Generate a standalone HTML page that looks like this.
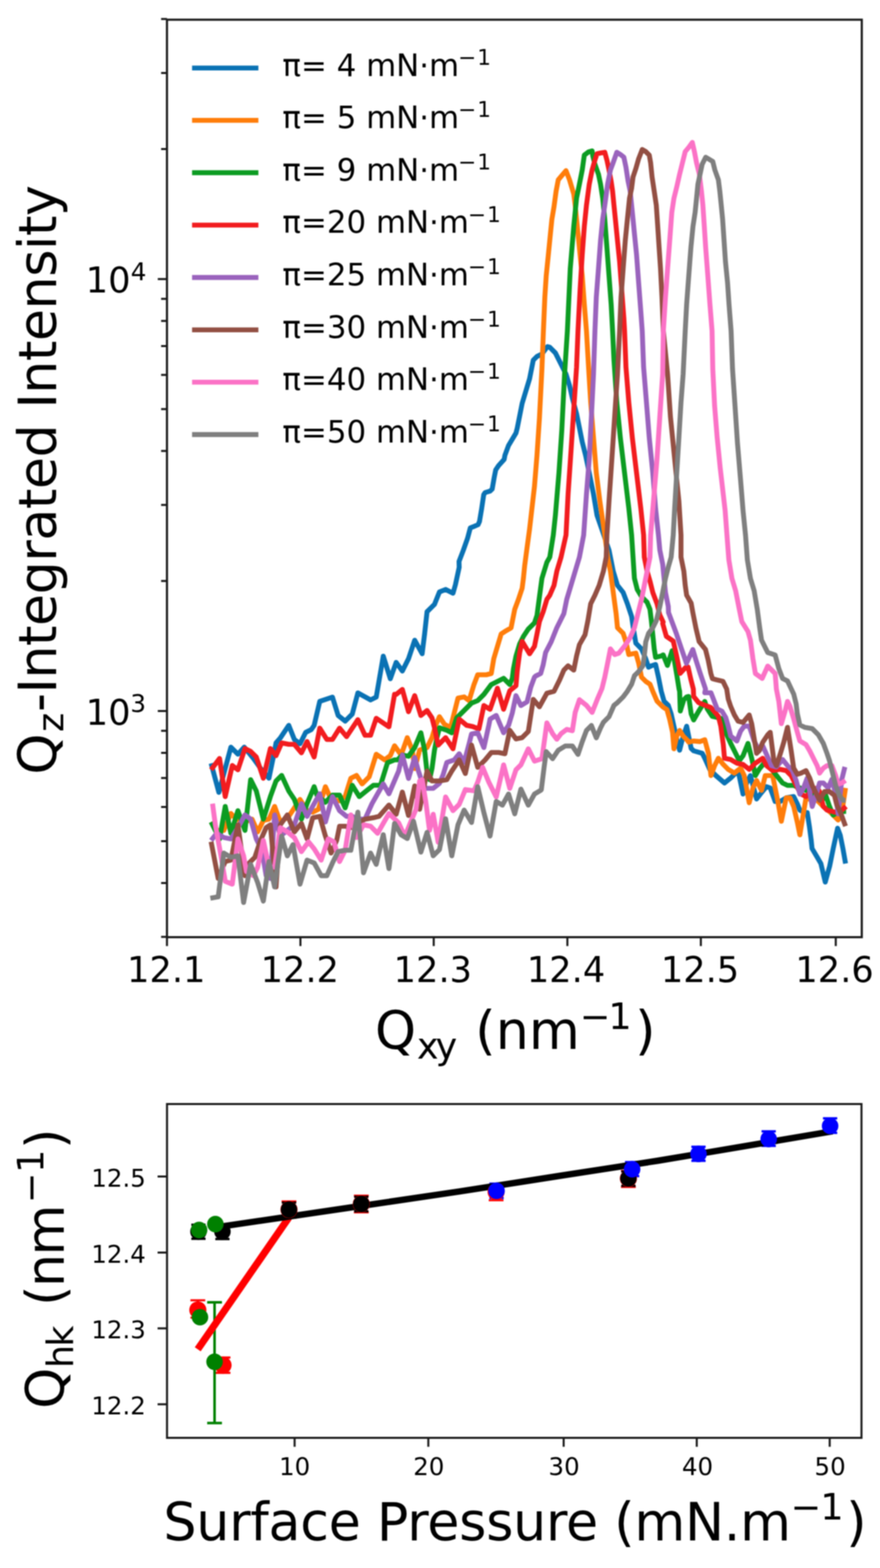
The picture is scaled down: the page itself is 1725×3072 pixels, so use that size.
<!DOCTYPE html><html><head><meta charset="utf-8"><title>Figure</title><style>html,body{margin:0;padding:0;background:#fff;}svg{display:block;filter:blur(0.8px);}text{font-family:"DejaVu Sans","Liberation Sans",sans-serif;fill:#000;}</style></head><body>
<svg width="1725" height="3072" viewBox="0 0 1725 3072">
<rect x="0" y="0" width="1725" height="3072" fill="#fff"/>
<defs><clipPath id="c1"><rect x="327.3" y="38.6" width="1362.0" height="1797.5"/></clipPath></defs>
<g clip-path="url(#c1)" fill="none" stroke-width="9.6" stroke-linejoin="round" stroke-linecap="butt">
<polyline stroke="#0a72b4" points="413.8,1495.6 429,1552.4 452.6,1463.8 466.4,1477.7 478.8,1463.8 496.8,1486 510.7,1505.3 527.2,1524.7 536.9,1477.7 541.1,1455.5 549.4,1446 566,1421.1 577,1448.8 588.1,1457.1 599.2,1434.9 610.2,1429.4 615.8,1421.1 626.8,1374.1 651.7,1365.8 662.8,1401.7 676.6,1412.8 690.5,1399 701.5,1357.5 726.4,1371.3 737.5,1365.8 751.3,1285.5 765.1,1329.8 776.6,1297.7 788.7,1314.7 800.8,1290.5 812.9,1254.2 827.5,1280.8 832.3,1242.1 837.1,1198.5 846.8,1188.8 851.7,1184 861.4,1159.8 873.5,1154.9 888,1162.2 892.8,1145.2 900.1,1111.4 899.8,1100 908.1,1078.4 916.4,1054.9 921.9,1034.2 927.5,1032.1 937.1,1027.9 939.9,1021.7 944.1,996.8 948.2,969.2 951,965 960.7,962.2 964.8,958.1 968.9,934.6 971.7,920.7 977.2,912.4 988.3,900 989.7,892.1 996.9,872.7 1004.2,860.6 1011.4,848.5 1013.9,838.8 1018.7,814.6 1023.5,790.4 1030.8,766.2 1038.1,742 1045.3,705.7 1052.6,698.4 1062.3,693.6 1073.2,679 1077.7,680.4 1088.7,691.5 1099.8,713.6 1109.5,733 1116.4,755.1 1121.9,780 1130.2,810.4 1135.8,838.1 1141.3,865.8 1148.2,893.4 1155.1,926.6 1163.4,968.1 1170.3,1009.6 1193.8,1077.7 1202.1,1119.2 1210.4,1146.8 1221.5,1160.7 1229.8,1182.8 1238.1,1207.7 1240.9,1227 1243.6,1243.6 1246.4,1260.2 1257.5,1271.3 1265.8,1290.7 1271.3,1307.3 1276.8,1304.5 1285.1,1301.7 1290.7,1326.6 1296.2,1354.3 1301.7,1373.7 1310,1382 1315.6,1398.5 1321.1,1423.4 1326.6,1447.7 1332.2,1469.8 1337.7,1447.7 1346,1422.8 1354.8,1466.2 1359.7,1471 1376.6,1475.9 1381.5,1485.6 1391.2,1507.3 1403.3,1519.5 1420.2,1534 1432.3,1524.3 1446.8,1509.8 1456.5,1555.8 1463.8,1534 1471,1519.5 1483.1,1565.4 1490.4,1555.8 1502.5,1541.2 1509.8,1543.7 1519.5,1570.3 1529.1,1570.3 1541.2,1563 1555.8,1560.6 1563,1575.1 1567.9,1587.2 1577.5,1592.1 1582.4,1592.1 1586.6,1619.2 1590,1645.1 1591.8,1662.4 1602.1,1679.7 1609.1,1691.8 1617.7,1728.1 1626.3,1697 1633.3,1662.4 1641.9,1622.6 1647.1,1636.4 1652.3,1662.4 1657.5,1691.8"/>
<polyline stroke="#ff7d0a" points="413.8,1610.4 424.9,1627 438.7,1627 452.6,1593.8 463.6,1604.9 480.2,1610.4 494.1,1604.9 505.1,1629.8 516.2,1607.7 527.2,1604.9 538.3,1580 549.4,1610.4 566,1599.4 577,1582.8 588.1,1566.2 601.9,1588.3 613,1591.1 624.1,1585.5 637.9,1541.3 649,1566.2 665.6,1568.9 676.6,1560.7 687.7,1524.7 698.8,1519.2 709.8,1535.8 723.7,1521.9 737.5,1477.7 754.1,1488.7 765.1,1480.4 773.4,1461.1 786.3,1479.1 798.4,1445.2 808.1,1469.5 812.9,1505.8 822.6,1469.5 837.1,1464.6 846.8,1445.2 854.1,1421 861.4,1404.1 871,1418.6 883.1,1425.9 897.7,1367.8 909.8,1365.4 919.5,1372.6 929.1,1341.2 936.4,1322 953.3,1322 963,1319.5 967.9,1290.5 975.1,1266.3 982.4,1242.1 989.7,1237.2 1001.8,1230 1009,1193.7 1016.3,1174.3 1023.5,1152.5 1026,1133.1 1028.4,1108.9 1033.2,1072.6 1038.1,1036.3 1047.7,952.6 1052.6,892.1 1057.4,819.5 1062.3,722.6 1065.2,648.3 1068,582 1070.7,540.5 1074.9,499 1079,457.5 1081.8,429.8 1086,404.9 1090.1,374.5 1094.3,352.4 1101.2,344.1 1109.5,334.4 1116.4,352.4 1120.5,366.2 1124.7,380 1127.5,402.1 1130.2,429.8 1133,457.5 1137.1,499 1141.3,540.5 1145.4,595.8 1149.6,648.3 1153.7,719.2 1157.9,788.3 1163.4,857.5 1168.9,926.6 1175.9,982 1185.5,1048.3 1191.1,1091.5 1196.6,1119.2 1202.1,1160.7 1207.7,1202.1 1210.4,1229.8 1221.5,1240.9 1227,1257.5 1232.6,1282.4 1246.4,1279.6 1251.9,1299 1254.7,1312.8 1257.5,1326.6 1265.8,1334.9 1274.1,1340.5 1279.6,1354.3 1287.9,1373.7 1299,1384.7 1307.3,1390.2 1312.8,1409.6 1318.3,1434.5 1321.1,1467 1326.6,1442.1 1332.2,1431.1 1339.1,1442.1 1347.4,1450.4 1350,1454.1 1359.7,1451.7 1371.8,1452.9 1381.5,1449.2 1388.7,1475.9 1393.6,1519.5 1400.8,1500.1 1408.1,1485.6 1417.8,1497.7 1427.5,1507.3 1439.6,1514.6 1451.7,1504.9 1458.9,1519.5 1468.6,1572.7 1475.9,1543.7 1483.1,1529.1 1492.8,1548.5 1500.1,1519.5 1514.6,1519.5 1524.3,1567.9 1531.6,1609 1541.2,1563 1548.5,1563 1555.8,1580 1563,1611.4 1567.9,1635.6 1575.1,1592.1 1580,1563 1592.1,1567.9 1601.8,1567.9 1613.9,1580 1628.4,1592.1 1642.9,1606.6 1650.2,1592.1 1657.4,1543.7"/>
<polyline stroke="#0c9c22" points="413.8,1610.4 430.4,1643.6 441.5,1580 452.6,1632.6 466.4,1588.3 480.2,1627 491.3,1527.5 502.4,1549.6 516.2,1604.9 530,1560.7 541.1,1530.2 552.1,1519.2 566,1549.6 577,1566.2 590.9,1604.9 601.9,1574.5 615.8,1541.3 621.3,1557.9 637.9,1571.7 651.7,1557.9 665.6,1557.9 676.6,1582.8 690.5,1538.5 704.3,1560.7 718.1,1549.6 732,1538.5 745.8,1538.5 759.6,1494.3 773.4,1488.7 779,1488.8 788.7,1479.1 800.8,1481.6 812.9,1464.6 825,1435.6 832.3,1469.5 837.1,1513 842,1527.5 846.8,1505.8 851.7,1469.5 856.5,1445.2 861.4,1425.9 875.9,1430.7 885.6,1435.6 895.2,1406.5 909.8,1392 924.3,1377.5 936.4,1372.6 948.5,1360.5 963,1341.2 987.2,1329 999.3,1341.2 1004.2,1329 1006.6,1309.9 1011.4,1285.6 1018.7,1261.4 1026,1246.9 1035.6,1232.4 1047.7,1220.3 1052.6,1205.8 1057.4,1169.5 1062.3,1133.1 1072,1101.7 1077.7,1091.5 1084.6,1048.3 1088.7,1009.6 1095.6,926.6 1101.2,843.6 1106.7,733 1112.2,648.3 1117.8,526.6 1124.7,443.6 1130.2,388.3 1135.8,360.7 1141.3,333 1145.4,303.9 1153.7,297.6 1160.7,295.6 1162,305.3 1166.2,321.9 1173.1,341.3 1177.2,360.7 1181.4,388.3 1185.5,429.8 1189.7,485.1 1193.8,540.5 1198,595.8 1200.8,648.3 1203.5,705.3 1209.1,788.3 1216,857.5 1224.3,926.6 1232.6,995.8 1238.1,1048.3 1240.9,1091.5 1243.6,1133 1249.2,1155.1 1257.5,1168.9 1268.5,1180 1274.1,1193.8 1276.8,1216 1279.6,1243.6 1282.4,1271.3 1285.1,1287.9 1296.2,1285.1 1300,1283 1308.3,1303.7 1317.6,1274.7 1321.8,1293.4 1327,1324.5 1331.1,1350 1332.2,1354.3 1333.5,1393 1340.5,1370.9 1346,1365.4 1350,1364.5 1354.8,1398.4 1359.7,1410.5 1369.4,1393.6 1381.5,1374.2 1386.3,1388.7 1396,1403.3 1405.7,1405.7 1415.4,1408.1 1422.6,1434.7 1432.3,1456.5 1442,1475.9 1449.2,1490.4 1456.5,1480.7 1466.2,1456.5 1473.5,1485.6 1480.7,1519.5 1488,1507.3 1497.7,1495.2 1507.3,1500.1 1514.6,1509.8 1524.3,1521.9 1534,1534 1543.7,1538.8 1555.8,1538.8 1567.9,1543.7 1580,1548.5 1589.7,1550.9 1601.8,1563 1611.4,1567.9 1618.7,1558.2 1626,1580 1633.2,1596.9 1640.5,1592.1 1650.2,1589.7 1658.6,1589.7"/>
<polyline stroke="#f21c1f" points="413.8,1508.1 430.4,1486 441.5,1560.7 455.3,1499.8 466.4,1508.1 480.2,1466.6 491.3,1472.1 502.4,1483.2 516.2,1524.7 530,1466.6 541.1,1480.4 552.1,1455.5 566,1458.3 577,1458.3 590.9,1474.9 601.9,1452.8 615.8,1483.2 626.8,1426.6 640.7,1448.8 651.7,1448.8 665.6,1426.6 679.4,1443.2 701.5,1410 715.4,1440.5 726.4,1440.5 737.5,1407.3 762.4,1423.9 773.4,1360.2 776.6,1360.5 788.7,1350.8 800.8,1394.4 812.9,1362.9 825,1401.7 837.1,1392 846.8,1406.5 851.7,1425.9 858.9,1459.8 873.5,1445.2 888,1467 900.1,1408.9 914.6,1421 926.7,1423.5 938.8,1428.3 948.5,1382.3 960.6,1389.6 975.1,1348.4 987.2,1389.6 999.3,1353.3 1011.4,1343.6 1013.9,1314.7 1018.7,1278.4 1023.5,1256.6 1030.8,1268.7 1038.1,1280.8 1047.7,1266.3 1052.6,1242.1 1057.4,1217.9 1064.7,1198.5 1072,1174.3 1077.7,1166.2 1086,1146.8 1091.5,1119.2 1099.8,1091.5 1109.5,1048.3 1113.6,968.1 1119.2,885.1 1124.7,802.1 1130.2,719.2 1133,648.3 1137.1,568.1 1141.3,499 1145.4,443.6 1149.6,402.1 1155.1,360.7 1160.7,333 1166.2,313.6 1170.3,301.2 1177.2,299.8 1185.5,298.4 1189.7,313.6 1193.8,333 1198,355.1 1200.8,374.5 1203.5,402.1 1206.3,429.8 1210.4,471.3 1214.6,512.8 1218.7,568.1 1222.9,623.4 1224.3,648.3 1227,719.2 1232.6,788.3 1239.5,857.5 1247.8,926.6 1256.1,995.8 1261.6,1048.3 1263,1091.5 1268.5,1119.2 1274.1,1138.5 1279.6,1160.7 1287.9,1182.8 1293.4,1204.9 1300,1218.7 1299,1221.5 1306.2,1246.7 1319.7,1256 1325.9,1283 1333.2,1319.3 1343.6,1307.9 1348.8,1306.8 1353.9,1329.7 1359.1,1350 1359.7,1364.5 1369.4,1376.6 1381.5,1381.5 1393.6,1386.3 1408.1,1403.3 1412.9,1422.6 1417.8,1458.9 1420.2,1485.6 1432.3,1488 1444.4,1495.2 1456.5,1497.7 1468.6,1507.3 1480.7,1495.2 1495.2,1485.6 1502.5,1500.1 1514.6,1509.8 1529.1,1507.3 1541.2,1509.8 1550.9,1519.5 1560.6,1538.8 1570.3,1555.8 1580,1560.6 1592.1,1548.5 1601.8,1543.7 1606.6,1550.9 1613.9,1580 1621.1,1587.2 1630.8,1589.7 1640.5,1592.1 1650.2,1587.2 1658.6,1580"/>
<polyline stroke="#9a63bd" points="413.8,1646.4 424.9,1632.6 438.7,1640.9 452.6,1643.6 466.4,1621.5 480.2,1596.6 491.3,1604.9 502.4,1643.6 513.4,1665.8 521.7,1715.6 530,1721.1 538.3,1596.6 549.4,1638.1 563.2,1627 577,1616 590.9,1574.5 601.9,1599.4 615.8,1574.5 626.8,1555.1 637.9,1610.4 651.7,1560.7 665.6,1588.3 679.4,1599.4 690.5,1599.4 701.5,1604.9 715.4,1604.9 729.2,1574.5 740.2,1555.1 751.3,1535.8 762.4,1555.1 781.5,1510.6 788.7,1479.1 800.8,1525.1 812.9,1484 820.2,1510.6 827.5,1532.4 834.7,1544.5 849.2,1544.5 861.4,1534.8 868.6,1517.9 875.9,1493.7 890.4,1488.8 900.1,1476.7 909.8,1493.7 919.5,1457.3 924.3,1438 936.4,1435.6 948.5,1464.6 958.2,1421 960.6,1408.9 972.7,1401.7 987.2,1435.6 996.9,1421 1004.2,1396.8 1011.4,1362.9 1021.1,1382.3 1033.2,1375 1040.5,1346 1047.7,1326.6 1050.2,1324.4 1059.9,1319.5 1064.7,1302.6 1069.5,1278.4 1080.4,1257.5 1091.5,1229.8 1105.3,1202.1 1110.9,1174.5 1119.2,1146.8 1127.5,1119.2 1135.8,1091.5 1144.1,1048.3 1149.6,968.1 1155.1,899 1159.3,816 1163.4,733 1166.2,648.3 1168.9,582 1173.1,526.6 1177.2,471.3 1181.4,429.8 1185.5,402.1 1191.1,360.7 1196.6,333 1200.8,321.9 1209.1,298.4 1216,302.6 1222.9,308.1 1227,327.5 1231.2,355.1 1235.3,374.5 1238.1,402.1 1240.9,429.8 1243.6,457.5 1247.8,499 1251.9,554.3 1256.1,609.6 1258.9,648.3 1261.6,719.2 1267.2,788.3 1272.7,857.5 1279.6,926.6 1285.1,995.8 1290.7,1048.3 1293.4,1077.7 1299,1105.3 1301.7,1133 1304.5,1160.7 1310,1188.3 1310.4,1200 1325.9,1241.5 1336.3,1272.6 1345.6,1299.6 1358.1,1272.6 1364.3,1293.4 1372.6,1319.3 1383,1350 1381.5,1357.3 1393.6,1357.3 1398.4,1369.4 1405.7,1388.7 1415.4,1393.6 1422.6,1405.7 1427.5,1422.6 1432.3,1442 1444.4,1451.7 1451.7,1432.3 1458.9,1422.6 1468.6,1422.6 1478.3,1451.7 1488,1471 1495.2,1461.4 1504.9,1483.1 1512.2,1500.1 1521.9,1502.5 1534,1488 1543.7,1500.1 1553.3,1509.8 1560.6,1529.1 1567.9,1555.8 1575.1,1543.7 1582.4,1524.3 1587.2,1550.9 1592.1,1580 1599.3,1558.2 1606.6,1534 1613.9,1534 1623.5,1543.7 1630.8,1526.7 1638.1,1555.8 1642.9,1594.5 1650.2,1526.7 1656.2,1502.5"/>
<polyline stroke="#934f43" points="413.8,1649.2 427.7,1721.1 441.5,1687.9 452.6,1685.1 466.4,1616 480.2,1715.6 488.5,1690.7 499.6,1679.6 510.7,1646.4 521.7,1621.5 530,1616 541.1,1737.7 549.4,1616 563.2,1596.6 577,1629.8 590.9,1613.2 601.9,1643.6 613,1602.1 626.8,1599.4 637.9,1638.1 649,1671.3 660,1646.4 665.6,1618.7 676.6,1618.7 687.7,1621.5 701.5,1613.2 715.4,1604.9 732,1602.1 743,1599.4 762.4,1577.2 773.4,1591.1 776.6,1595.3 788.7,1551.8 800.8,1597.7 812.9,1539.7 822.6,1585.6 837.1,1510.6 846.8,1530 861.4,1530 875.9,1527.5 885.6,1510.6 900.1,1488.8 912.2,1515.4 924.3,1459.8 936.4,1503.3 950.9,1488.8 963,1474.3 977.5,1474.3 989.7,1476.7 999.3,1430.7 1011.4,1447.7 1023.5,1445.2 1035.6,1433.1 1045.3,1370.2 1057.4,1384.7 1072,1358.1 1086,1354.3 1097,1332.2 1105.3,1312.8 1113.6,1304.5 1124.7,1312.8 1130.2,1285.1 1135.8,1263 1146.8,1243.6 1152.4,1216 1157.9,1182.8 1166.2,1166.2 1174.5,1146.8 1182.8,1119.2 1188.3,1091.5 1189.7,1048.3 1193.8,982 1199.4,899 1204.9,816 1210.4,733 1214.6,648.3 1217.4,582 1221.5,526.6 1225.7,471.3 1229.8,429.8 1234,388.3 1238.1,368.9 1240.9,346.8 1246.4,330.2 1251.9,310.9 1258.9,292.9 1265.8,297 1272.7,303.9 1275.4,319.2 1278.2,346.8 1282.4,374.5 1286.5,402.1 1289.3,443.6 1292,485.1 1294.8,526.6 1297.6,582 1300.3,648.3 1308.6,733 1314.2,816 1319.7,871.3 1325.2,926.6 1330.8,982 1334.9,1048.3 1334.9,1091.5 1340.5,1119.2 1343.2,1146.8 1346,1166.2 1354.8,1181.6 1358.1,1200 1364.3,1231.1 1370.5,1257.1 1383,1272.6 1388.2,1293.4 1393.4,1319.3 1396.5,1329.7 1403.7,1331.7 1417.2,1334.9 1424.5,1350 1427.5,1369.4 1432.3,1383.9 1439.6,1400.8 1446.8,1412.9 1456.5,1415.4 1468.6,1400.8 1473.5,1417.8 1478.3,1446.8 1483.1,1475.9 1488,1471 1495.2,1454.1 1504.9,1439.6 1509.8,1434.7 1517,1490.4 1521.9,1500.1 1529.1,1478.3 1536.4,1454.1 1543.7,1425 1550.9,1471 1555.8,1504.9 1563,1517 1570.3,1514.6 1580,1509.8 1587.2,1524.3 1592.1,1538.8 1599.3,1553.3 1606.6,1567.9 1616.3,1550.9 1626,1550.9 1635.6,1558.2 1640.5,1577.5 1647.7,1592.1 1657.4,1618.7"/>
<polyline stroke="#fb72c6" points="416.6,1574.5 422.1,1616 433.2,1676.8 441.5,1726.6 455.3,1732.2 466.4,1643.6 477.5,1676.8 483,1707.3 496.8,1715.6 505.1,1699 516.2,1646.4 527.2,1699 538.3,1699 549.4,1621.5 563.2,1629.8 577,1640.9 590.9,1668.5 604.7,1649.2 615.8,1663 629.6,1685.1 643.4,1643.6 654.5,1649.2 665.6,1687.9 676.6,1665.8 687.7,1596.6 698.8,1640.9 712.6,1616 726.4,1618.7 740.2,1632.6 751.3,1613.2 762.4,1593.8 781.5,1612.3 793.6,1638.9 803.3,1614.7 815.4,1585.6 822.6,1530 827.5,1527.5 834.7,1571.1 842,1626.8 849.2,1595.3 858.9,1650 873.5,1561.4 888,1588.1 900.1,1576 912.2,1546.9 929.1,1549.3 936.4,1532.4 946.1,1503.3 958.2,1532.4 972.7,1561.4 987.2,1498.5 999.3,1544.5 1011.4,1508.2 1021.1,1498.5 1035.6,1467 1047.7,1491.2 1062.3,1486.4 1072,1416.2 1083.2,1437.3 1091.5,1448.3 1099.8,1437.3 1110.9,1429 1121.9,1431.7 1127.5,1395.8 1135.8,1370.9 1149.6,1382 1160.7,1395.8 1171.7,1368.1 1180,1348.8 1185.5,1326.6 1191.1,1299 1196.6,1271.3 1204.9,1282.4 1213.2,1279.6 1224.3,1265.8 1235.3,1249.2 1243.6,1229.8 1251.9,1196.6 1257.5,1174.5 1263,1146.8 1268.5,1119.2 1274.1,1091.5 1275.4,1048.3 1281,982 1287.9,899 1293.4,816 1299,733 1300.3,648.3 1304.5,582 1308.6,526.6 1312.8,471.3 1316.9,416 1321.1,388.3 1326.6,366.2 1332.2,341.3 1337.7,319.2 1343.2,297 1350.1,288.7 1357.1,279 1361.2,297 1365.4,319.2 1370.9,341.3 1375,374.5 1377.8,402.1 1380.6,443.6 1383.3,485.1 1387.5,540.5 1391.6,595.8 1395.8,648.3 1397.2,722.6 1400.8,795.2 1405.7,855.8 1411.7,916.3 1421.4,1000 1425,1048.4 1428.7,1096.8 1434.7,1133.1 1442,1157.3 1449.2,1193.7 1454.1,1217.9 1466.2,1237.2 1471,1254.2 1475.9,1290.5 1480.7,1319.5 1494,1329.2 1504.9,1305 1519.5,1319.5 1521.9,1350 1526.7,1374.2 1531.6,1417.8 1538.8,1393.6 1543.7,1374.2 1548.5,1383.9 1555.8,1408.1 1563,1434.7 1567.9,1451.7 1580,1458.9 1587.2,1471 1594.5,1485.6 1601.8,1500.1 1606.6,1514.6 1613.9,1504.9 1621.1,1500.1 1630.8,1500.1 1638.1,1519.5 1642.9,1536.4 1650.2,1534 1657.4,1529.1"/>
<polyline stroke="#7f7f7f" points="412.4,1759.8 427.7,1757.1 438.7,1671.3 452.6,1679.6 466.4,1676.8 477.5,1768.1 491.3,1693.4 505.1,1729.4 516.2,1765.4 527.2,1687.9 538.3,1737.7 552.1,1638.1 563.2,1676.8 574.3,1654.7 588.1,1732.2 601.9,1685.1 615.8,1690.7 629.6,1715.6 640.7,1715.6 651.7,1690.7 662.8,1668.5 676.6,1665.8 687.7,1665.8 701.5,1591.1 712.6,1710 726.4,1671.3 737.5,1693.4 751.3,1635.3 762.4,1701.7 773.4,1613.2 786.3,1635.6 798.4,1642.8 810.5,1608.9 825,1669.5 837.1,1630.7 849.2,1676.7 861.4,1664.6 873.5,1604.1 885.6,1676.7 897.7,1616.2 909.8,1587.1 924.3,1611.4 936.4,1541.2 948.5,1592 960.6,1638 972.7,1570.2 984.8,1577.5 996.9,1555.7 1009,1594.4 1021.1,1546 1035.6,1577.5 1047.7,1555.7 1059.9,1548.4 1061.1,1547.2 1066.6,1503 1070.7,1472.6 1083.2,1486.4 1094.3,1469.8 1108.1,1461.5 1121.9,1461.5 1133,1478.1 1141.3,1453.2 1149.6,1431.1 1159.3,1421.4 1168.9,1445.6 1177.2,1426.2 1182.8,1415.1 1193.8,1404.1 1203.5,1382 1210.4,1376.4 1221.5,1365.4 1229.8,1354.3 1238.1,1340.5 1243.6,1323.9 1251.9,1315.6 1260.2,1304.5 1263,1285.1 1265.8,1257.5 1271.3,1240.9 1279.6,1229.8 1286.5,1216 1293.4,1188.3 1299,1160.7 1304.5,1133 1310,1110.9 1315.6,1091.5 1319.7,1048.3 1322.5,995.8 1326.6,926.6 1330.8,857.5 1334.9,788.3 1339.1,733 1343.2,648.3 1346,595.8 1350.1,540.5 1354.3,485.1 1358.4,443.6 1362.6,416 1365.4,388.3 1368.1,360.7 1372.3,341.3 1376.4,321.9 1383.3,308.1 1390.2,312.2 1397.2,316.4 1401.3,333 1408.2,352.4 1411,374.5 1413.8,402.1 1416.5,429.8 1419.3,471.3 1422.1,512.8 1426.2,554.3 1429,595.8 1433.1,648.3 1435.9,722.6 1440.8,795.2 1445.6,867.9 1451.7,940.5 1456.5,1000 1461.4,1048.4 1465,1096.8 1471,1133.1 1478.3,1157.3 1484.4,1193.7 1489.2,1230 1492.8,1254.2 1504.9,1278.4 1519.5,1283.2 1526.7,1309.9 1534,1329.2 1543.7,1334.1 1555.8,1359.7 1560.6,1379 1563,1398.4 1567.9,1420.2 1577.5,1425 1592.1,1427.5 1604.2,1439.6 1613.9,1456.5 1621.1,1475.9 1626,1490.4 1630.8,1509.8 1638.1,1538.8 1645.3,1558.2 1652.6,1567.9 1657.4,1567.9"/>
</g>
<rect x="327.3" y="38.6" width="1362.0" height="1797.5" fill="none" stroke="#1a1a1a" stroke-width="4.2"/>
<text x="249.1" y="1924.2" font-size="69">12.1</text>
<text x="510.9" y="1924.2" font-size="69">12.2</text>
<text x="771.6" y="1924.2" font-size="69">12.3</text>
<text x="1032.7" y="1924.2" font-size="69">12.4</text>
<text x="1295.4" y="1924.2" font-size="69">12.5</text>
<text x="1559.1" y="1924.2" font-size="69">12.6</text>
<path d="M327.3 1836.1V1853.6 M588.9 1836.1V1853.6 M850.2 1836.1V1853.6 M1112.2 1836.1V1853.6 M1373.8 1836.1V1853.6 M1638.3 1836.1V1853.6 M327.3 1393.1H309.3 M327.3 546.8H309.3 M327.3 1835.6H315.8 M327.3 1729.9H315.8 M327.3 1647.9H315.8 M327.3 1580.9H315.8 M327.3 1524.2H315.8 M327.3 1475.1H315.8 M327.3 1431.8H315.8 M327.3 1138.3H315.8 M327.3 989.3H315.8 M327.3 883.6H315.8 M327.3 801.6H315.8 M327.3 734.6H315.8 M327.3 677.9H315.8 M327.3 628.8H315.8 M327.3 585.5H315.8 M327.3 292H315.8 M327.3 143H315.8 M327.3 37.3H315.8" stroke="#1a1a1a" stroke-width="4" fill="none"/>
<text x="168" y="573.4" font-size="69">10</text>
<text x="256.2" y="548.6" font-size="48.3">4</text>
<text x="168" y="1419.7" font-size="69">10</text>
<text x="255.6" y="1394.9" font-size="48.3">3</text>
<text x="735" y="2055" font-size="102.5">Q</text>
<text x="817.2" y="2073.5" font-size="71.75" textLength="78.9" lengthAdjust="spacing">xy</text>
<text x="931.5" y="2055" font-size="102.5" textLength="205.2" lengthAdjust="spacing">(nm</text>
<text x="1136.3" y="2015.5" font-size="71.75">−</text>
<text x="1192.4" y="2015.5" font-size="71.75">1</text>
<text x="1245" y="2055" font-size="102.5">)</text>
<g transform="rotate(-90)">
<text x="-1517.8" y="110" font-size="102.5">Q</text>
<text x="-1434" y="124.4" font-size="71.75">z</text>
<text x="-1394.8" y="110" font-size="102.5" textLength="1032.2" lengthAdjust="spacing">-Integrated Intensity</text>
</g>
<line x1="376.5" y1="133.2" x2="506.5" y2="133.2" stroke="#0a72b4" stroke-width="9.6"/>
<text x="553.6" y="148.6" font-size="60.5">π= 4 mN·m</text>
<text x="897.9" y="126.7" font-size="42.35">−</text>
<text x="935.4" y="126.7" font-size="42.35">1</text>
<line x1="376.5" y1="235.8" x2="506.5" y2="235.8" stroke="#ff7d0a" stroke-width="9.6"/>
<text x="553.6" y="251.2" font-size="60.5">π= 5 mN·m</text>
<text x="897.9" y="229.3" font-size="42.35">−</text>
<text x="935.4" y="229.3" font-size="42.35">1</text>
<line x1="376.5" y1="338.4" x2="506.5" y2="338.4" stroke="#0c9c22" stroke-width="9.6"/>
<text x="553.6" y="353.8" font-size="60.5">π= 9 mN·m</text>
<text x="897.9" y="331.9" font-size="42.35">−</text>
<text x="935.4" y="331.9" font-size="42.35">1</text>
<line x1="376.5" y1="441" x2="506.5" y2="441" stroke="#f21c1f" stroke-width="9.6"/>
<text x="553.6" y="456.4" font-size="60.5">π=20 mN·m</text>
<text x="917.2" y="434.5" font-size="42.35">−</text>
<text x="954.7" y="434.5" font-size="42.35">1</text>
<line x1="376.5" y1="543.6" x2="506.5" y2="543.6" stroke="#9a63bd" stroke-width="9.6"/>
<text x="553.6" y="559" font-size="60.5">π=25 mN·m</text>
<text x="917.2" y="537.1" font-size="42.35">−</text>
<text x="954.7" y="537.1" font-size="42.35">1</text>
<line x1="376.5" y1="646.2" x2="506.5" y2="646.2" stroke="#934f43" stroke-width="9.6"/>
<text x="553.6" y="661.6" font-size="60.5">π=30 mN·m</text>
<text x="917.2" y="639.7" font-size="42.35">−</text>
<text x="954.7" y="639.7" font-size="42.35">1</text>
<line x1="376.5" y1="748.8" x2="506.5" y2="748.8" stroke="#fb72c6" stroke-width="9.6"/>
<text x="553.6" y="764.2" font-size="60.5">π=40 mN·m</text>
<text x="917.2" y="742.3" font-size="42.35">−</text>
<text x="954.7" y="742.3" font-size="42.35">1</text>
<line x1="376.5" y1="851.4" x2="506.5" y2="851.4" stroke="#7f7f7f" stroke-width="9.6"/>
<text x="553.6" y="866.8" font-size="60.5">π=50 mN·m</text>
<text x="917.2" y="844.9" font-size="42.35">−</text>
<text x="954.7" y="844.9" font-size="42.35">1</text>
<rect x="327.4" y="2163.0" width="1361.3000000000002" height="654.0" fill="none" stroke="#1a1a1a" stroke-width="4"/>
<text x="546.9" y="2890" font-size="48">10</text>
<text x="809.9" y="2890" font-size="48">20</text>
<text x="1075.1" y="2890" font-size="48">30</text>
<text x="1336.7" y="2890" font-size="48">40</text>
<text x="1596.6" y="2890" font-size="48">50</text>
<text x="178.9" y="2770.8" font-size="48">12.2</text>
<text x="178.9" y="2622" font-size="48">12.3</text>
<text x="178.9" y="2473.7" font-size="48">12.4</text>
<text x="178.9" y="2324.5" font-size="48">12.5</text>
<path d="M577.5 2817V2834.5 M839.6 2817V2834.5 M1104.9 2817V2834.5 M1365.8 2817V2834.5 M1626.4 2817V2834.5 M327.4 2751.2H308.9 M327.4 2602.4H308.9 M327.4 2454.1H308.9 M327.4 2304.9H308.9" stroke="#1a1a1a" stroke-width="4" fill="none"/>
<text x="320.3" y="3017.8" font-size="102.5" textLength="1230.4" lengthAdjust="spacing">Surface Pressure (mN.m</text>
<text x="1549.4" y="2977" font-size="71.75">−</text>
<text x="1607.9" y="2977" font-size="71.75">1</text>
<text x="1658.8" y="3017.8" font-size="102.5">)</text>
<g transform="rotate(-90)">
<text x="-2760.2" y="125" font-size="102.5">Q</text>
<text x="-2680.3" y="143" font-size="71.75" textLength="83.3" lengthAdjust="spacing">hk</text>
<text x="-2558.4" y="125" font-size="102.5" textLength="198.4" lengthAdjust="spacing">(nm</text>
<text x="-2357.4" y="85" font-size="71.75">−</text>
<text x="-2298.1" y="85" font-size="71.75">1</text>
<text x="-2251" y="125" font-size="102.5">)</text>
</g>
<path d="M387.8 2547.5V2581.5M373.3 2547.5H402.3M373.3 2581.5H402.3" stroke="#ff0000" stroke-width="4.2" fill="none"/>
<path d="M437.2 2659.6V2689.6M422.7 2659.6H451.7M422.7 2689.6H451.7" stroke="#ff0000" stroke-width="4.2" fill="none"/>
<path d="M566.5 2353.8V2385.8M552 2353.8H581M552 2385.8H581" stroke="#ff0000" stroke-width="4.2" fill="none"/>
<path d="M708.2 2342.7V2375.2M693.7 2342.7H722.7M693.7 2375.2H722.7" stroke="#ff0000" stroke-width="4.2" fill="none"/>
<path d="M1231.8 2294V2325.5M1217.3 2294H1246.3M1217.3 2325.5H1246.3" stroke="#ff0000" stroke-width="4.2" fill="none"/>
<path d="M972.5 2321V2351.5M958 2321H987M958 2351.5H987" stroke="#ff0000" stroke-width="4.2" fill="none"/>
<path d="M389 2399.5V2427M375 2399.5H403M375 2427H403" stroke="#000" stroke-width="4.5" fill="none"/>
<path d="M436 2399.5V2427.5M422 2399.5H450M422 2427.5H450" stroke="#000" stroke-width="4.5" fill="none"/>
<path d="M566.5 2356.3V2383.8M552.5 2356.3H580.5M552.5 2383.8H580.5" stroke="#000" stroke-width="4.5" fill="none"/>
<path d="M708.2 2344.7V2373.2M694.2 2344.7H722.2M694.2 2373.2H722.2" stroke="#000" stroke-width="4.5" fill="none"/>
<path d="M1231.8 2295.3V2323.3M1217.8 2295.3H1245.8M1217.8 2323.3H1245.8" stroke="#000" stroke-width="4.5" fill="none"/>
<path d="M390.3 2405.8V2413.8M375.8 2405.8H404.8M375.8 2413.8H404.8" stroke="#008000" stroke-width="5" fill="none"/>
<path d="M422.2 2394.2V2402.2M407.7 2394.2H436.7M407.7 2402.2H436.7" stroke="#008000" stroke-width="5" fill="none"/>
<path d="M392 2576.6V2584.6M377.5 2576.6H406.5M377.5 2584.6H406.5" stroke="#008000" stroke-width="5" fill="none"/>
<path d="M420.6 2551.5V2788M406.1 2551.5H435.1M406.1 2788H435.1" stroke="#008000" stroke-width="5" fill="none"/>
<path d="M973.3 2319V2347M959.3 2319H987.3M959.3 2347H987.3" stroke="#0000ff" stroke-width="4.5" fill="none"/>
<path d="M1239.1 2276.8V2304.3M1225.1 2276.8H1253.1M1225.1 2304.3H1253.1" stroke="#0000ff" stroke-width="4.5" fill="none"/>
<path d="M1369.2 2246.7V2274.2M1355.2 2246.7H1383.2M1355.2 2274.2H1383.2" stroke="#0000ff" stroke-width="4.5" fill="none"/>
<path d="M1506.8 2216.5V2245M1492.8 2216.5H1520.8M1492.8 2245H1520.8" stroke="#0000ff" stroke-width="4.5" fill="none"/>
<path d="M1627.2 2190.9V2219.4M1613.2 2190.9H1641.2M1613.2 2219.4H1641.2" stroke="#0000ff" stroke-width="4.5" fill="none"/>
<line x1="387.6" y1="2643.6" x2="566.1" y2="2385.5" stroke="#ff0000" stroke-width="14"/>
<polyline points="436,2402.6 680,2366.8 900,2334.4 1100,2303.3 1290,2274 1400,2255.7 1632,2216.3" stroke="#000" stroke-width="12.5" fill="none" stroke-linejoin="round"/>
<circle cx="387.8" cy="2566.5" r="16.8" fill="#ff0000"/>
<circle cx="437.2" cy="2674.6" r="16.8" fill="#ff0000"/>
<circle cx="566.5" cy="2369.8" r="16.8" fill="#ff0000"/>
<circle cx="708.2" cy="2358.7" r="16.8" fill="#ff0000"/>
<circle cx="1231.8" cy="2309" r="16.8" fill="#ff0000"/>
<circle cx="972.5" cy="2335" r="16.8" fill="#ff0000"/>
<circle cx="389" cy="2413" r="16.2" fill="#000"/>
<circle cx="436" cy="2413" r="16.2" fill="#000"/>
<circle cx="566.5" cy="2369.8" r="16.2" fill="#000"/>
<circle cx="708.2" cy="2358.7" r="16.2" fill="#000"/>
<circle cx="1231.8" cy="2308.8" r="16.2" fill="#000"/>
<circle cx="390.3" cy="2409.8" r="16.2" fill="#008000"/>
<circle cx="422.2" cy="2398.2" r="16.2" fill="#008000"/>
<circle cx="392" cy="2580.6" r="16.2" fill="#008000"/>
<circle cx="420.6" cy="2668" r="16.2" fill="#008000"/>
<circle cx="973.3" cy="2333" r="16.2" fill="#0000ff"/>
<circle cx="1239.1" cy="2290.8" r="16.2" fill="#0000ff"/>
<circle cx="1369.2" cy="2260.7" r="16.2" fill="#0000ff"/>
<circle cx="1506.8" cy="2231.5" r="16.2" fill="#0000ff"/>
<circle cx="1627.2" cy="2205.9" r="16.2" fill="#0000ff"/>
</svg></body></html>
